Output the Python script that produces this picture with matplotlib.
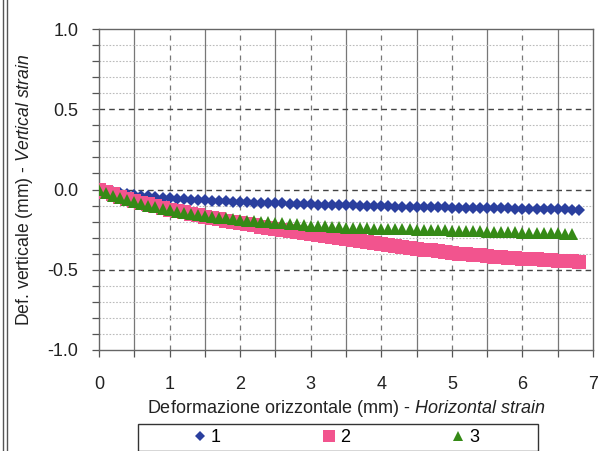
import matplotlib
matplotlib.use("Agg")
import matplotlib.pyplot as plt
from matplotlib.patches import Rectangle
from matplotlib.lines import Line2D
from matplotlib.ticker import MultipleLocator

plt.rcParams['font.family'] = ['Liberation Sans', 'DejaVu Sans']
plt.rcParams['mathtext.fontset'] = 'custom'
plt.rcParams['mathtext.rm'] = 'Liberation Sans'
plt.rcParams['mathtext.it'] = 'Liberation Sans:italic'

# ---------------- data ----------------
x_vals = [0.0, 0.1, 0.2, 0.3, 0.4, 0.5, 0.6, 0.7, 0.8, 0.9,
          1.0, 1.1, 1.2, 1.3, 1.4, 1.5, 1.6, 1.7, 1.8, 1.9,
          2.0, 2.1, 2.2, 2.3, 2.4, 2.5, 2.6, 2.7, 2.8, 2.9,
          3.0, 3.1, 3.2, 3.3, 3.4, 3.5, 3.6, 3.7, 3.8, 3.9,
          4.0, 4.1, 4.2, 4.3, 4.4, 4.5, 4.6, 4.7, 4.8, 4.9,
          5.0, 5.1, 5.2, 5.3, 5.4, 5.5, 5.6, 5.7, 5.8, 5.9,
          6.0, 6.1, 6.2, 6.3, 6.4, 6.5, 6.6, 6.7, 6.8]

series1 = [0.000, -0.010, -0.018, -0.024, -0.030, -0.035, -0.039, -0.043, -0.047, -0.051,
           -0.055, -0.058, -0.061, -0.063, -0.066, -0.068, -0.070, -0.072, -0.074, -0.076,
           -0.078, -0.080, -0.081, -0.083, -0.084, -0.086, -0.087, -0.089, -0.090, -0.092,
           -0.093, -0.094, -0.095, -0.096, -0.097, -0.098, -0.099, -0.100, -0.102, -0.103,
           -0.104, -0.105, -0.106, -0.107, -0.108, -0.108, -0.109, -0.110, -0.111, -0.112,
           -0.113, -0.113, -0.114, -0.115, -0.116, -0.116, -0.117, -0.118, -0.118, -0.119,
           -0.120, -0.121, -0.121, -0.122, -0.123, -0.123, -0.124, -0.125, -0.126]

series2 = [0.000, -0.016, -0.031, -0.045, -0.058, -0.070, -0.082, -0.093, -0.104, -0.115,
           -0.125, -0.134, -0.143, -0.152, -0.161, -0.170, -0.178, -0.186, -0.194, -0.202,
           -0.210, -0.217, -0.224, -0.231, -0.238, -0.245, -0.252, -0.259, -0.266, -0.273,
           -0.280, -0.286, -0.292, -0.298, -0.304, -0.310, -0.316, -0.322, -0.328, -0.334,
           -0.340, -0.346, -0.352, -0.358, -0.364, -0.370, -0.375, -0.380, -0.385, -0.390,
           -0.395, -0.399, -0.403, -0.407, -0.411, -0.415, -0.418, -0.421, -0.424, -0.427,
           -0.430, -0.433, -0.435, -0.438, -0.440, -0.443, -0.445, -0.448, -0.450]

series3 = [0.000, -0.022, -0.040, -0.055, -0.068, -0.080, -0.091, -0.102, -0.112, -0.121,
           -0.130, -0.138, -0.145, -0.152, -0.159, -0.165, -0.170, -0.175, -0.180, -0.185,
           -0.190, -0.194, -0.198, -0.201, -0.204, -0.207, -0.211, -0.215, -0.218, -0.222,
           -0.225, -0.227, -0.230, -0.232, -0.235, -0.237, -0.239, -0.240, -0.242, -0.243,
           -0.245, -0.246, -0.247, -0.248, -0.249, -0.250, -0.251, -0.252, -0.254, -0.255,
           -0.256, -0.257, -0.258, -0.260, -0.261, -0.262, -0.263, -0.264, -0.266, -0.267,
           -0.268, -0.269, -0.270, -0.272, -0.273, -0.274, -0.276, -0.277]

series_names = ["1", "2", "3"]
x_ticks = [0, 1, 2, 3, 4, 5, 6, 7]
y_ticks = [-1.0, -0.5, 0.0, 0.5, 1.0]

# ---------------- styling ----------------
c_blue = "#2a3f9e"
c_pink = "#f2548e"
c_green = "#358a16"

W, H = 603, 451
fig = plt.figure(figsize=(W / 100, H / 100), dpi=100)
fig.patch.set_facecolor("white")

ax = fig.add_axes([99 / W, 1 - 350 / H, (593 - 99) / W, (350 - 29) / H])

ax.plot(x_vals, series1, linestyle="none", marker="D", markersize=6.5,
        color=c_blue, markeredgewidth=0, zorder=3, label=series_names[0])
ax.plot(x_vals, series2, linestyle="none", marker="s", markersize=10,
        color=c_pink, markeredgewidth=0, zorder=4, label=series_names[1])
ax.plot(x_vals[:len(series3)], series3, linestyle="none", marker="^", markersize=8.5,
        color=c_green, markeredgewidth=0, zorder=5, label=series_names[2])

ax.set_xlim(0, 7)
ax.set_ylim(-1, 1)
ax.set_xticks(x_ticks)
ax.set_yticks(y_ticks)
ax.set_yticklabels([f"{v:.1f}" for v in y_ticks])
ax.xaxis.set_minor_locator(MultipleLocator(0.5))
ax.yaxis.set_minor_locator(MultipleLocator(0.1))

# grid
for xv in [0.5, 1.5, 2.5, 3.5, 4.5, 5.5, 6.5]:
    ax.axvline(xv, color="#777777", lw=0.9, ls="-", zorder=1)
for xv in [1, 2, 3, 4, 5, 6]:
    ax.axvline(xv, color="#777777", lw=0.9, ls=(0, (4, 4)), zorder=1)
for yv in [-0.9, -0.8, -0.7, -0.6, -0.4, -0.3, -0.2, -0.1,
           0.1, 0.2, 0.3, 0.4, 0.6, 0.7, 0.8, 0.9]:
    ax.axhline(yv, color="#bbbbbb", lw=0.8, ls=(0, (1.5, 1.5)), zorder=1)
for yv in [-0.5, 0.0, 0.5]:
    ax.axhline(yv, color="#444444", lw=1.0, ls=(0, (4, 3)), zorder=1)

for s in ax.spines.values():
    s.set_color("#666666")
    s.set_linewidth(1.0)

ax.tick_params(axis="both", which="both", direction="out", color="#555555",
               length=5, width=0.9, labelsize=13, labelcolor="#222222")
ax.tick_params(axis="x", which="major", length=5, pad=14)
ax.tick_params(axis="x", which="minor", length=5)
ax.tick_params(axis="y", which="major", pad=10)

ax.set_xlabel("Deformazione orizzontale (mm) - $\\it{Horizontal\\ strain}$",
              fontsize=13, color="#222222", labelpad=3)
ax.set_ylabel("Def. verticale (mm) - $\\it{Vertical\\ strain}$",
              fontsize=12.7, color="#222222", labelpad=9)

# legend box
fig.patches.append(Rectangle((138 / W, 0), (538 - 138) / W, (H - 424) / H,
                             transform=fig.transFigure, fill=False,
                             edgecolor="#333333", lw=1.0))
handles = [
    Line2D([], [], linestyle="none", marker="D", markersize=5.5, color=c_blue, markeredgewidth=0),
    Line2D([], [], linestyle="none", marker="s", markersize=8, color=c_pink, markeredgewidth=0),
    Line2D([], [], linestyle="none", marker="^", markersize=7, color=c_green, markeredgewidth=0),
]
fig.legend(handles, series_names, loc="center", ncol=3,
           bbox_to_anchor=(336 / W, 1 - 438 / H), frameon=False,
           fontsize=13, handlelength=0.8, handletextpad=0.2,
           columnspacing=5.6, borderpad=0)

# outer border lines of the scanned chart
for xp in [3, 7]:
    fig.add_artist(Line2D([xp / W, xp / W], [0, 1], transform=fig.transFigure,
                          color="#555555", lw=1.0))

fig.savefig("out.png", dpi=100)
